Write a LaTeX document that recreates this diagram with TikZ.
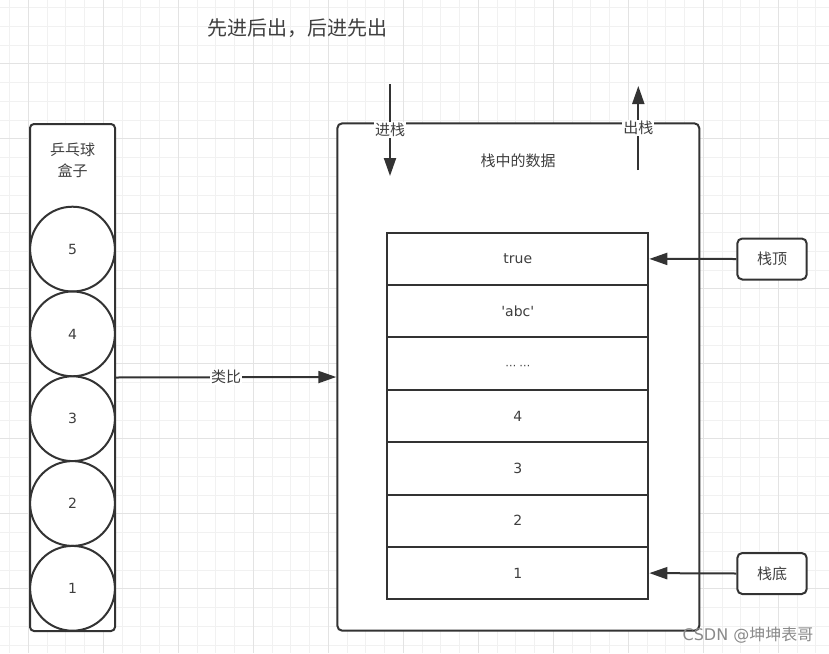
\documentclass[tikz,border=0pt]{standalone}
\usepackage{fontspec}
\setmainfont{DejaVu Sans}
\newfontfamily\cjk{Noto Sans CJK SC}
\newfontfamily\lat{DejaVu Sans}
\usetikzlibrary{arrows.meta}
\definecolor{dark}{HTML}{333333}
\definecolor{txt}{HTML}{3F3F3F}
\definecolor{gridminor}{HTML}{F1F1F1}
\definecolor{gridmajor}{HTML}{E3E3E3}
\definecolor{wm}{HTML}{8A8A8A}
\begin{document}
\begin{tikzpicture}[x=1pt,y=-1pt,
  frame/.style={draw=dark,line width=2pt,rounded corners=5pt,fill=white,inner sep=0pt},
  ball/.style={circle,draw=dark,line width=2pt,fill=white,minimum size=84.8pt,inner sep=0pt,text=txt,font=\lat\fontsize{14}{16}\selectfont},
  cell/.style={rectangle,draw=dark,line width=2pt,fill=white,minimum width=261pt,minimum height=52.37pt,inner sep=0pt,text=txt,font=\lat\fontsize{14}{16}\selectfont},
  tag/.style={rectangle,draw=dark,line width=2pt,rounded corners=5pt,fill=white,minimum width=69.4pt,minimum height=41pt,inner sep=0pt,text=txt,font=\cjk\fontsize{15}{18}\selectfont},
  arr/.style={draw=dark,line width=2pt,-{Triangle[length=18pt,width=12pt]}},
  lbl/.style={fill=white,inner sep=1pt,text=txt,font=\cjk\fontsize{15}{18}\selectfont},
  cjktext/.style={text=txt,inner sep=0pt,font=\cjk\fontsize{15}{18}\selectfont},
]
\useasboundingbox (0,0) rectangle (829,653);
% grid
\begin{scope}
\clip (0,0) rectangle (829,653);
\fill[white] (0,0) rectangle (829,653);
\foreach \k in {0,...,43} {
  \pgfmathsetmacro{\xx}{9.5+18.75*\k}
  \draw[gridminor,line width=1pt] (\xx,0) -- (\xx,653);
}
\foreach \k in {0,...,34} {
  \pgfmathsetmacro{\yy}{7.5+18.75*\k}
  \draw[gridminor,line width=1pt] (0,\yy) -- (829,\yy);
}
\foreach \k in {0,...,10} {
  \pgfmathsetmacro{\xx}{28.25+75*\k}
  \draw[gridmajor,line width=1pt] (\xx,0) -- (\xx,653);
}
\foreach \k in {0,...,8} {
  \pgfmathsetmacro{\yy}{63.75+75*\k}
  \draw[gridmajor,line width=1pt] (0,\yy) -- (829,\yy);
}
\end{scope}

% title
\node[text=txt,inner sep=0pt,font=\cjk\fontsize{20}{24}\selectfont] (title) at (297,28) {先进后出，后进先出};

% left box with balls
\node[frame,rounded corners=4pt,minimum width=85pt,minimum height=507pt] (lbox) at (72.5,377.5) {};
\node[cjktext,align=center,font=\cjk\fontsize{15}{21}\selectfont] (lboxlabel) at (72.5,160.5) {乒乓球\\盒子};
\foreach \n/\i in {5/0,4/1,3/2,2/3,1/4} {
  \node[ball] (ball\n) at (72.5,249.1+84.8*\i) {\n};
}

% main box
\node[frame,minimum width=362pt,minimum height=507.4pt] (mbox) at (518.3,377) {};
\node[cjktext] (mlabel) at (518,160.7) {栈中的数据};

% cells
\node[cell] (c1) at (517.8,258.9) {true};
\node[cell] (c2) at (517.8,311.3) {'abc'};
\node[cell] (c3) at (517.8,363.6) {\raisebox{-6pt}[0pt][0pt]{\fontsize{11}{12}\selectfont ⋯\hspace{3pt}⋯}};
\node[cell] (c4) at (517.8,416.0) {4};
\node[cell] (c5) at (517.8,468.4) {3};
\node[cell] (c6) at (517.8,520.7) {2};
\node[cell] (c7) at (517.8,573.1) {1};

% tags
\node[tag] (top) at (772,259) {栈顶};
\node[tag] (bottom) at (772,573.5) {栈底};
\draw[arr] (top.west) -- (c1.east);
\draw[arr] (bottom.west) -- (c7.east);

% push / pop
\coordinate (in1) at (390,84);
\coordinate (in2) at (390,176);
\coordinate (out1) at (638.3,170);
\coordinate (out2) at (638.3,86);
\draw[arr] (in1) -- node[lbl] (inlbl) {进栈} (in2);
\draw[arr] (out1) -- node[lbl] (outlbl) {出栈} (out2);

% analogy
\draw[arr] (lbox.east) -- node[lbl] (analogy) {类比} (mbox.west);

% watermark
\node[text=wm,inner sep=0pt,anchor=east,font=\cjk\fontsize{16}{18}\selectfont] (wmark) at (813.5,635) {{\lat CSDN @}坤坤表哥};
\end{tikzpicture}
\end{document}
